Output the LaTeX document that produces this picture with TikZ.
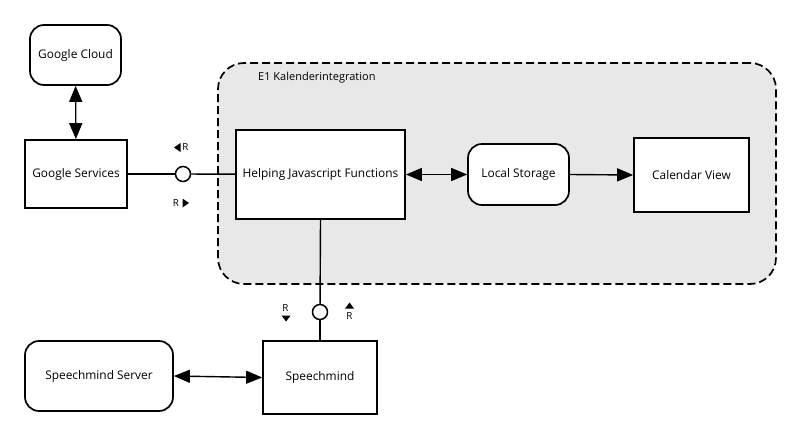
\documentclass[tikz,border=0pt]{standalone}
\usepackage{fontspec}
\setmainfont{Open Sans}
\usetikzlibrary{arrows.meta,positioning}
\tikzset{
  box/.style={draw=black,line width=1.7pt,fill=white,inner sep=0pt,font=\fontsize{11.9}{14}\selectfont},
  rbox/.style={box,rounded corners=14pt},
  conn/.style={line width=1.4pt},
  tip/.style={-{Triangle[length=16pt,width=13pt]}},
  tips/.style={{Triangle[length=16pt,width=13pt]}-{Triangle[length=16pt,width=13pt]}},
  port/.style={circle,draw=black,line width=1.5pt,fill=white,minimum size=15pt,inner sep=0pt},
  lbl/.style={font=\fontsize{9.8}{9.8}\selectfont,inner sep=0pt},
  tri/.style={fill=black},
}
\begin{document}
\begin{tikzpicture}[x=1pt,y=-1pt]
\useasboundingbox (0,0) rectangle (801,439);
% container
\node[draw=black,line width=1.7pt,dash pattern=on 8pt off 4pt,fill=black!9,rounded corners=26pt,
  minimum width=558pt,minimum height=221pt,inner sep=0pt] (cont) at (497,173.5) {};
\node[lbl,font=\fontsize{11}{11}\selectfont,anchor=west] (contlbl) at (258,78) {E1 Kalenderintegration};
% nodes
\node[rbox,minimum width=91pt,minimum height=60pt] (cloud) at (75.5,55) {Google Cloud};
\node[box,minimum width=102pt,minimum height=68pt] (gs) at (76,174) {Google Services};
\node[box,minimum width=169pt,minimum height=89pt] (hjs) at (320.5,174.5) {Helping Javascript Functions};
\node[rbox,minimum width=101pt,minimum height=61pt] (ls) at (518.5,174.5) {Local Storage};
\node[box,minimum width=115pt,minimum height=74pt] (cv) at (691.5,175) {Calendar View};
\node[box,minimum width=114pt,minimum height=73pt] (sm) at (320,377.5) {Speechmind};
\node[rbox,minimum width=148pt,minimum height=70pt] (sms) at (99,376) {Speechmind Server};
\node[port] (p1) at (183,174) {};
\node[port] (p2) at (320,312) {};
% connectors
\draw[conn,tips] (cloud) -- (gs);
\draw[conn] (gs) -- (p1);
\draw[conn] (p1) -- (hjs);
\draw[conn,tips] (hjs.east) -- (ls.west);
\draw[conn,tip] (ls.east) -- (cv.west);
\draw[conn] (hjs.south) -- (p2);
\draw[conn] (p2) -- (sm.north);
\draw[conn,tips] (sms.east) -- (sm.west);
% port labels
\node[lbl] (r1) at (185.5,147.5) {R};
\fill[tri] (180.5,143) -- (180.5,152) -- (174,147.5) -- cycle;
\node[lbl] (r2) at (176,203) {R};
\fill[tri] (182.5,198.5) -- (182.5,207.5) -- (189,203) -- cycle;
\node[lbl] (r3) at (285.5,308) {R};
\fill[tri] (281.5,315.5) -- (290.5,315.5) -- (286,321.5) -- cycle;
\node[lbl] (r4) at (349.5,315.5) {R};
\fill[tri] (345,308.5) -- (354,308.5) -- (349.5,302.5) -- cycle;
\end{tikzpicture}
\end{document}
